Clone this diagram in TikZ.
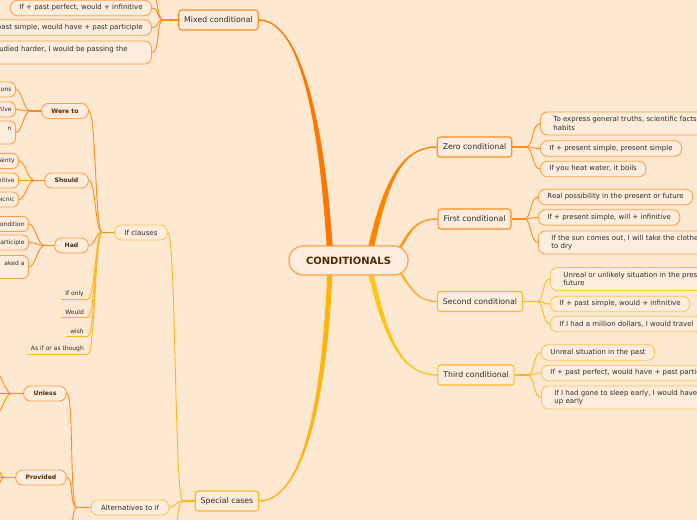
\documentclass[tikz,border=0pt]{standalone}
\usepackage{fontspec}
\setmainfont{DejaVu Sans}
\usetikzlibrary{calc}
\definecolor{bgc}{RGB}{253,232,210}
\definecolor{nfill}{RGB}{254,237,220}
\definecolor{txt}{RGB}{45,45,45}
\definecolor{brn}{RGB}{80,42,12}
\definecolor{brA}{RGB}{255,118,0}
\definecolor{brB}{RGB}{255,132,0}
\definecolor{brC}{RGB}{255,150,20}
\definecolor{brD}{RGB}{255,172,40}
\definecolor{brE}{RGB}{255,196,20}
\definecolor{brF}{RGB}{255,180,10}
\definecolor{bdO}{RGB}{255,140,30}
\definecolor{lfO}{RGB}{255,160,70}
\definecolor{bdY}{RGB}{255,185,40}
\definecolor{lfY}{RGB}{255,196,80}
\definecolor{lnO}{RGB}{255,140,25}
\definecolor{lnY}{RGB}{255,182,30}
\pgfdeclarelayer{back}\pgfdeclarelayer{edges}\pgfsetlayers{back,edges,main}
\newcommand\mytaper[7]{\fill[#1] ($(#2)+(-#6,0)$) .. controls ($(#3)+(-#6,0)$) and ($(#4)+(0,#7)$) .. ($(#5)+(0,#7)$) -- ($(#5)+(0,{-1*(#7)})$) .. controls ($(#4)+(0,{-1*(#7)})$) and ($(#3)+(#6,0)$) .. ($(#2)+(#6,0)$) -- cycle;}
\begin{document}
\begin{tikzpicture}[x=1pt,y=-1pt,
 rootbox/.style={draw=lfO, line width=1.2pt, fill=nfill, rounded corners=14pt, minimum height=29pt, inner xsep=17pt, font=\fontsize{10}{12}\selectfont\bfseries, text=brn},
 lvl/.style={line width=1.1pt, fill=nfill, rounded corners=3pt, minimum height=20pt, inner xsep=5.5pt, inner ysep=0pt, font=\fontsize{7.8}{9}\selectfont, text=txt},
 lvlO/.style={lvl, draw=bdO}, lvlY/.style={lvl, draw=bdY},
 leaf/.style={line width=0.9pt, fill=nfill, rounded corners=7pt, minimum height=15.5pt, inner xsep=9pt, inner ysep=0pt, font=\fontsize{7}{8.3}\selectfont, text=txt},
 leafO/.style={leaf, draw=lfO}, leafY/.style={leaf, draw=lfY},
 twoline/.style={minimum height=23pt, inner xsep=13pt, align=left},
 mid/.style={draw=lfY, line width=0.9pt, fill=nfill, rounded corners=7pt, minimum height=15pt, inner xsep=10pt, inner ysep=0pt, font=\fontsize{7}{8}\selectfont, text=txt},
 sub/.style={draw=lfO, line width=0.9pt, fill=nfill, rounded corners=7pt, minimum height=15pt, inner xsep=10pt, inner ysep=0pt, font=\fontsize{6.1}{7}\selectfont\bfseries, text=brn},
 frag/.style={draw=lfO, line width=0.9pt, fill=nfill, rounded corners=6pt, minimum height=15pt, inner xsep=4pt, inner ysep=0pt, text width=36pt, align=right, anchor=east, font=\fontsize{6}{8}\selectfont, text=txt},
 uleaf/.style={inner xsep=4pt, inner ysep=2pt, anchor=south east, font=\fontsize{6}{7}\selectfont, text=txt},
 stubO/.style={draw=lnO, line width=1.8pt},
 stubY/.style={draw=lnY, line width=1.8pt},
 fanO/.style={draw=lnO, line width=0.9pt},
 fanY/.style={draw=lnY, line width=0.9pt}]
\begin{pgfonlayer}{back}
\fill[bgc] (0,0) rectangle (697,520);
\end{pgfonlayer}
\useasboundingbox (0,0) rectangle (697,520);

% main nodes
\node[rootbox] (root) at (348.5,260.5) {CONDITIONALS};
\node[lvlO] (zero) at (474.5,147) {Zero conditional};
\node[lvlO] (first) at (474.5,219) {First conditional};
\node[lvlY] (second) at (480,301.5) {Second conditional};
\node[lvlY] (third) at (476,375) {Third conditional};
\node[lvlO] (mixed) at (218.5,20) {Mixed conditional};
\node[lvlY] (special) at (227,501) {Special cases};

% right leaves
\node[leafO, twoline, anchor=west] (z1) at (540,123.5) {To express general truths, scientific facts\\habits};
\node[leafO, anchor=west] (z2) at (540,148.5) {If + present simple, present simple};
\node[leafO, anchor=west] (z3) at (540,169) {If you heat water, it boils};
\node[leafO, anchor=west] (f1) at (538,197) {Real possibility in the present or future};
\node[leafO, anchor=west] (f2) at (538,217.5) {If + present simple, will + infinitive};
\node[leafO, twoline, anchor=west] (f3) at (538,242.5) {If the sun comes out, I will take the clothes\\to dry};
\node[leafY, twoline, anchor=west] (s1) at (550,279) {Unreal or unlikely situation in the present or\\future};
\node[leafY, anchor=west] (s2) at (550,304) {If + past simple, would + infinitive};
\node[leafY, anchor=west] (s3) at (550,324) {If I had a million dollars, I would travel};
\node[leafY, anchor=west] (t1) at (541,352.5) {Unreal situation in the past};
\node[leafY, anchor=west] (t2) at (541,373) {If + past perfect, would have + past participle};
\node[leafY, twoline, anchor=west] (t3) at (541,397.5) {If I had gone to sleep early, I would have woken\\up early};

% mixed leaves
\node[leafO, anchor=east] (mx1) at (152,8) {If + past perfect, would + infinitive};
\node[leafO, anchor=east] (mx2) at (152,27.5) {If + past simple, would have + past participle};
\node[leafO, twoline, anchor=east] (mx3) at (152,52.5) {If I had studied harder, I would be passing the\hspace*{11pt}\\\mbox{}};

% special cases subtree
\node[mid] (ifc) at (141,232.5) {If clauses};
\node[mid] (alt) at (130,507.5) {Alternatives to if};
\node[sub] (wereto) at (65,111) {Were to};
\node[sub] (should) at (66.5,180.5) {Should};
\node[sub] (had) at (71.5,245.5) {Had};
\node[sub] (unless) at (45,393.5) {Unless};
\node[sub] (provided) at (41,477.5) {Provided};

\node[frag] (wt1) at (16,89.5) {ons};
\node[frag] (wt2) at (16,109.5) {tive};
\node[frag, minimum height=23pt] (wt3) at (16,132.5) {n\\\mbox{}};
\node[frag] (sh1) at (19,161) {ainty};
\node[frag] (sh2) at (19,180.5) {nitive};
\node[frag] (sh3) at (19,199.5) {picnic};
\node[frag] (hd1) at (29,224) {condition};
\node[frag] (hd2) at (29,242.5) {participle};
\node[frag, minimum height=23pt] (hd3) at (29,267) {aked a\\\mbox{}};

\node[uleaf] (io) at (88,299) {If only};
\node[uleaf] (wo) at (88,317) {Would};
\node[uleaf] (wi) at (88,336) {wish};
\node[uleaf] (asif) at (88,354) {As if or as though};

% junctions
\coordinate (zj) at ($(zero.east)+(14,0)$);
\coordinate (fj) at ($(first.east)+(13,0)$);
\coordinate (sj) at ($(second.east)+(14,0)$);
\coordinate (tj) at ($(third.east)+(13,0)$);
\coordinate (mj) at ($(mixed.west)+(-15,0)$);
\coordinate (mxup) at (150,-14);
\coordinate (scj) at ($(special.west)+(-12,0)$);
\coordinate (scdn) at (168,580);
\coordinate (ifj) at ($(ifc.west)+(-12,0)$);
\coordinate (altj) at ($(alt.west)+(-14,0)$);
\coordinate (altdn) at (66,570);
\coordinate (wtj) at ($(wereto.west)+(-11,0)$);
\coordinate (shj) at ($(should.west)+(-10,0)$);
\coordinate (hdj) at ($(had.west)+(-10,0)$);
\coordinate (unj) at ($(unless.west)+(-12,0)$);
\coordinate (un1) at (-5,371);
\coordinate (un2) at (-5,393.5);
\coordinate (un3) at (-5,416);
\coordinate (prj) at ($(provided.west)+(-11,0)$);
\coordinate (pr1) at (-7,457);
\coordinate (pr2) at (-7,477.5);
\coordinate (pr3) at (-7,498);

\begin{pgfonlayer}{edges}
% main tapered branches
\mytaper{brA}{330,252}{322,120}{300,20}{mixed.east}{3}{0.7}
\mytaper{brB}{370,252}{385,185}{400,147}{zero.west}{3}{-0.7}
\mytaper{brC}{398,252}{412,225}{420,219}{first.west}{1.6}{-0.7}
\mytaper{brD}{398,268}{412,292}{420,301.5}{second.west}{1.3}{0.7}
\mytaper{brE}{370,270}{385,335}{400,375}{third.west}{2.6}{0.7}
\mytaper{brF}{330,270}{324,420}{298,501}{special.east}{2.6}{-0.7}

% right fans
\draw[stubO] (zero.east) -- (zj);
\foreach \c in {z1,z2,z3} \draw[fanO] (zj) .. controls +(7,0) and +(-8,0) .. (\c.west);
\draw[stubO] (first.east) -- (fj);
\foreach \c in {f1,f2,f3} \draw[fanO] (fj) .. controls +(7,0) and +(-8,0) .. (\c.west);
\draw[stubY] (second.east) -- (sj);
\foreach \c in {s1,s2,s3} \draw[fanY] (sj) .. controls +(7,0) and +(-8,0) .. (\c.west);
\draw[stubY] (third.east) -- (tj);
\foreach \c in {t1,t2,t3} \draw[fanY] (tj) .. controls +(7,0) and +(-8,0) .. (\c.west);

% mixed fan
\draw[stubO] (mixed.west) -- (mj);
\foreach \c in {mx1,mx2,mx3} \draw[fanO] (mj) .. controls +(-7,0) and +(8,0) .. (\c.east);
\draw[fanO] (mj) .. controls +(-7,0) and +(8,0) .. (mxup);

% special cases
\draw[stubY] (special.west) -- (scj);
\draw[fanY] (scj) .. controls +(-8,0) and +(8,0) .. (ifc.east);
\draw[fanY] (scj) .. controls +(-6,0) and +(6,0) .. (alt.east);
\draw[fanY] (scj) .. controls +(-8,0) and +(8,0) .. (scdn);

% if clauses
\draw[stubO] (ifc.west) -- (ifj);
\foreach \c in {wereto,should,had} \draw[fanO] (ifj) .. controls +(-7,0) and +(7,0) .. (\c.east);
\foreach \c in {io,wo,wi,asif} {
  \draw[fanY] (ifj) .. controls +(-7,0) and +(7,0) .. (\c.south east);
  \draw[fanY] (\c.south west) -- (\c.south east);
}
\draw[stubO] (wereto.west) -- (wtj);
\foreach \c in {wt1,wt2,wt3} \draw[fanO] (wtj) .. controls +(-6,0) and +(6,0) .. (\c.east);
\draw[stubO] (should.west) -- (shj);
\foreach \c in {sh1,sh2,sh3} \draw[fanO] (shj) .. controls +(-6,0) and +(6,0) .. (\c.east);
\draw[stubO] (had.west) -- (hdj);
\foreach \c in {hd1,hd2,hd3} \draw[fanO] (hdj) .. controls +(-6,0) and +(6,0) .. (\c.east);

% alternatives
\draw[stubO] (alt.west) -- (altj);
\foreach \c in {unless,provided} \draw[fanO] (altj) .. controls +(-7,0) and +(7,0) .. (\c.east);
\draw[fanO] (altj) .. controls +(-7,0) and +(7,0) .. (altdn);
\draw[stubO] (unless.west) -- (unj);
\foreach \c in {un1,un2,un3} \draw[fanO] (unj) .. controls +(-6,0) and +(6,0) .. (\c);
\draw[stubO] (provided.west) -- (prj);
\foreach \c in {pr1,pr2,pr3} \draw[fanO] (prj) .. controls +(-6,0) and +(6,0) .. (\c);
\end{pgfonlayer}
\end{tikzpicture}
\end{document}
